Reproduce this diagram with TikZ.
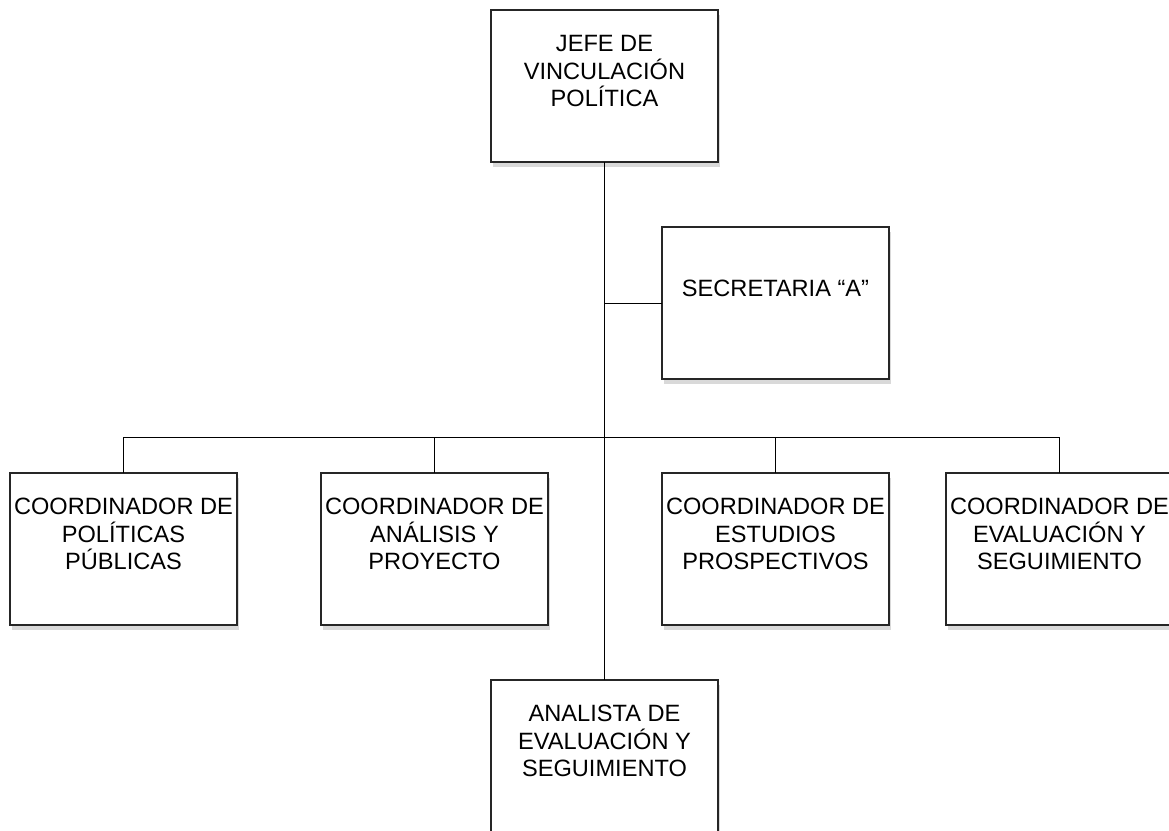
\documentclass[tikz,border=0pt]{standalone}
\usepackage{fontspec}
\setmainfont{Liberation Sans}
\usetikzlibrary{shadows}
\begin{document}
\begin{tikzpicture}[x=1pt,y=-1pt,
  unit/.style={draw=black!85, line width=1.2pt, fill=white, rectangle,
    anchor=north west, minimum width=227pt, minimum height=152pt,
    inner sep=0pt, outer sep=0pt,
    drop shadow={shadow xshift=2pt, shadow yshift=-5pt, fill=black!15, opacity=1}},
  lbl/.style={align=center, inner sep=0pt, font=\fontsize{23.6}{27.6}\selectfont},
  link/.style={draw=black, line width=0.9pt}]
\useasboundingbox (0,0) rectangle (1169,830);
\clip (0,0) rectangle (1169,830);

% boxes
\node[unit] (jefe) at (491,10) {};
\node[unit] (sec)  at (662,227) {};
\node[unit] (c1)   at (10,473) {};
\node[unit] (c2)   at (321,473) {};
\node[unit] (c3)   at (662,473) {};
\node[unit] (c4)   at (946,473) {};
\node[unit] (ana)  at (491,680) {};

% connectors
\coordinate (bus) at (jefe.south |- 0,437);
\draw[link] (jefe.south) -- (ana.north);
\draw[link] (jefe.south |- sec.west) -- (sec.west);
\draw[link] (c1.north |- bus) -- (c4.north |- bus);
\foreach \b in {c1,c2,c3,c4} \draw[link] (\b.north |- bus) -- (\b.north);

% titles
\node[lbl] (jefe-t) at ([yshift=15pt]jefe.center) {JEFE DE\\VINCULACIÓN\\POLÍTICA};
\node[lbl] (sec-t)  at ([yshift=15pt]sec.center)  {SECRETARIA “A”};
\node[lbl] (c1-t)   at ([yshift=15pt]c1.center)   {COORDINADOR DE\\POLÍTICAS\\PÚBLICAS};
\node[lbl] (c2-t)   at ([yshift=15pt]c2.center)   {COORDINADOR DE\\ANÁLISIS Y\\PROYECTO};
\node[lbl] (c3-t)   at ([yshift=15pt]c3.center)   {COORDINADOR DE\\ESTUDIOS\\PROSPECTIVOS};
\node[lbl] (c4-t)   at ([yshift=15pt]c4.center)   {COORDINADOR DE\\EVALUACIÓN Y\\SEGUIMIENTO};
\node[lbl] (ana-t)  at ([yshift=15pt]ana.center)  {ANALISTA DE\\EVALUACIÓN Y\\SEGUIMIENTO};
\end{tikzpicture}
\end{document}
